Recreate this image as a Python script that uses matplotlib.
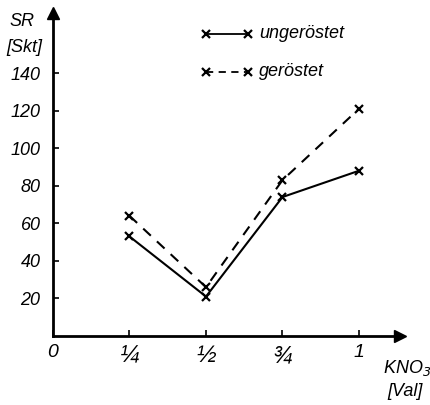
import matplotlib.pyplot as plt
from matplotlib.lines import Line2D

# KNO3 in Val, SR in Skt
kno3 = [0.25, 0.5, 0.75, 1.0]
sr_ungeroestet = [53, 21, 74, 88]
sr_geroestet = [64, 26, 83, 121]

x_ticks = [0, 0.25, 0.5, 0.75, 1.0]
x_ticklabels = ['0', '¼', '½', '¾', '1']
y_ticks = [20, 40, 60, 80, 100, 120, 140]

plt.rcParams['font.family'] = ['Liberation Sans', 'DejaVu Sans']
plt.rcParams['font.style'] = 'italic'

fig = plt.figure(figsize=(4.31, 4.05), dpi=100)
ax = fig.add_axes([53 / 431, 69 / 405, 347 / 431, 323 / 405])

ax.plot(kno3, sr_ungeroestet, color='black', lw=1.5, ls='-',
        marker='x', ms=6, mew=1.6, clip_on=False)
ax.plot(kno3, sr_geroestet, color='black', lw=1.5, ls=(0, (5, 4)),
        marker='x', ms=6, mew=1.6, clip_on=False)

ax.set_xlim(0, 1.134)
ax.set_ylim(0, 172)

for s in ['top', 'right']:
    ax.spines[s].set_visible(False)
for s in ['left', 'bottom']:
    ax.spines[s].set_linewidth(2)

# arrow heads
ax.plot(1, 0, marker='>', ms=9, color='black', transform=ax.transAxes, clip_on=False)
ax.plot(0, 1, marker='^', ms=9, color='black', transform=ax.transAxes, clip_on=False)

ax.set_xticks(x_ticks)
ax.set_xticklabels(x_ticklabels, fontsize=14)
for lbl in ax.get_xticklabels()[1:4]:
    lbl.set_fontsize(17)
ax.set_yticks(y_ticks)
ax.set_yticklabels([str(v) for v in y_ticks], fontsize=13)
ax.tick_params(axis='both', direction='in', length=4, width=1.2)
ax.tick_params(axis='x', pad=6)
ax.tick_params(axis='y', pad=9)

# axis labels
fig.text(22 / 431, 1 - 22 / 405, 'SR', fontsize=13, ha='center', va='center')
fig.text(24 / 431, 1 - 48 / 405, '[Skt]', fontsize=13, ha='center', va='center')
fig.text(407 / 431, 1 - 368 / 405, 'KNO$_3$', fontsize=13, ha='center', va='center',
         math_fontfamily='dejavusans')
fig.text(405 / 431, 1 - 392 / 405, '[Val]', fontsize=13, ha='center', va='center')

# legend drawn by hand
for y, ls, label in [(34, '-', 'ungeröstet'), (72, (0, (4, 3)), 'geröstet')]:
    yf = 1 - y / 405
    fig.add_artist(Line2D([206 / 431, 248 / 431], [yf, yf], color='black', lw=1.3, ls=ls,
                          marker='x', ms=6, mew=1.6, markevery=[0, 1]))
    fig.text(259 / 431, yf, label, fontsize=13, ha='left', va='center')

fig.savefig('out.png', dpi=100)
